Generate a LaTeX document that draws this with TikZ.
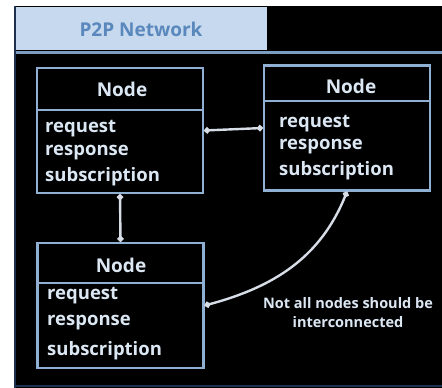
\documentclass[tikz,border=0pt]{standalone}
\usepackage{fontspec}
\setmainfont{Open Sans}
\usetikzlibrary{arrows.meta}
\definecolor{tabfill}{HTML}{C6D9EE}
\definecolor{tabtext}{HTML}{5A88BC}
\definecolor{frameline}{HTML}{7D9DC0}
\definecolor{boxline}{HTML}{8FB0D2}
\definecolor{txt}{HTML}{DCE7F4}
\definecolor{conn}{HTML}{D6DDE6}
\definecolor{edge}{HTML}{1E3050}
\tikzset{
  nodebox/.style={draw=boxline, line width=2.2pt, minimum width=166pt, minimum height=125pt, inner sep=0pt},
  divider/.style={draw=boxline, line width=2pt},
  head/.style={text=txt, font=\bfseries\fontsize{19}{22}\selectfont, inner sep=0pt},
  item/.style={text=txt, font=\bfseries\fontsize{18.5}{21}\selectfont, inner sep=0pt, anchor=west},
  link/.style={draw=conn, line width=2.4pt, {Circle[length=6pt,fill=boxline]}-{Circle[length=6pt,fill=boxline]}},
  note/.style={text=txt, font=\bfseries\fontsize{14.5}{19}\selectfont, align=center, inner sep=0pt}
}
\begin{document}
\begin{tikzpicture}[x=1pt,y=-1pt]
\useasboundingbox (0,0) rectangle (442,388);
\fill[white] (0,0) rectangle (442,388);
\fill[black] (14,6) rectangle (442,388);
\fill[tabfill] (15,7) rectangle (267,50);
\node[text=tabtext, font=\bfseries\fontsize{19}{22}\selectfont] (title) at (141,29) {P2P Network};
\draw[frameline, line width=3pt] (15,52) -- (442,52);
\draw[edge, line width=2pt] (15,6) -- (15,388);
\draw[edge, line width=2pt] (14,386) -- (442,386);
% node 1
\node[nodebox] (n1) at (120,130.5) {};
\draw[divider] (37,110) -- (203,110);
\node[head] (h1) at (122,89) {Node};
\node[item] (a1) at (45,129) {request};
\node[item] (b1) at (45,153) {response};
\node[item] (c1) at (45,177) {subscription};
% node 2
\node[nodebox] (n2) at (347,128) {};
\draw[divider] (264,101) -- (430,101);
\node[head] (h2) at (351,86) {Node};
\node[item] (a2) at (279,124) {request};
\node[item] (b2) at (279,147) {response};
\node[item] (c2) at (279,171) {subscription};
% node 3
\node[nodebox] (n3) at (120.5,305.5) {};
\draw[divider] (37,283) -- (204,283);
\node[head] (h3) at (121,265) {Node};
\node[item] (a3) at (47,296) {request};
\node[item] (b3) at (47,323) {response};
\node[item] (c3) at (47,351) {subscription};
% connectors
\draw[link] (n1.east) -- (n2.west);
\draw[link] (n1.south) -- (n3.north);
\draw[link] (n3.east) to[out=15, in=-112] (n2.south);
\node[note] (nt) at (348,313) {Not all nodes should be\\interconnected};
\end{tikzpicture}
\end{document}
